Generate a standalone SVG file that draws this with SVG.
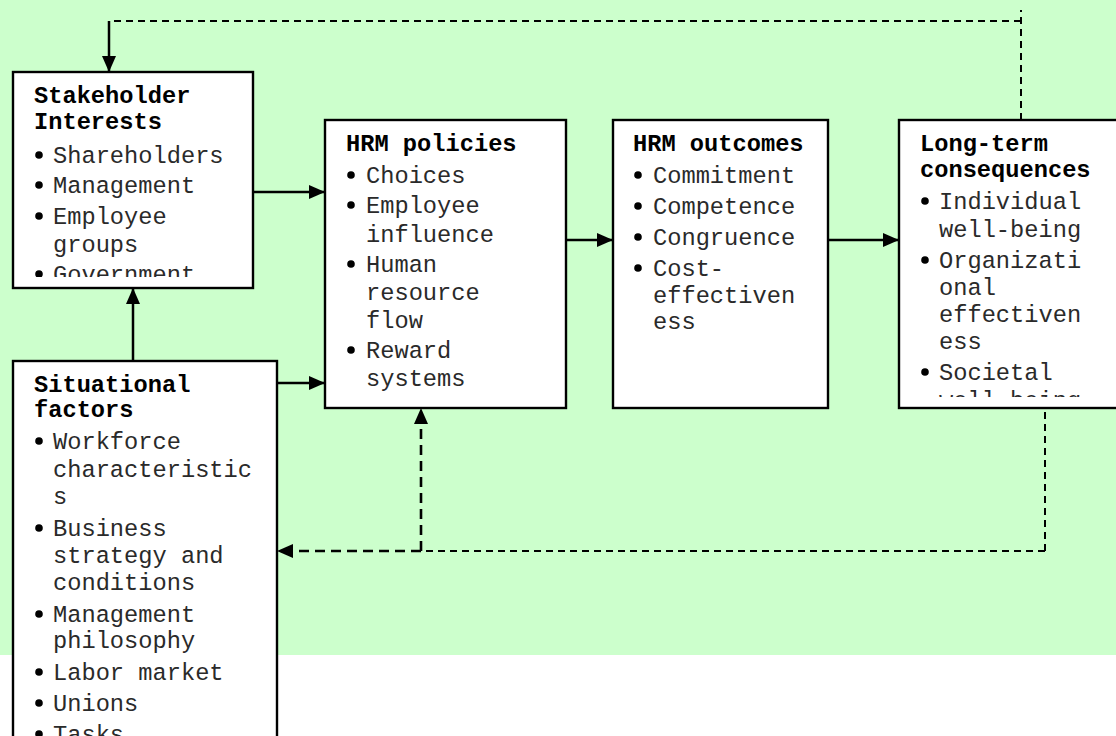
<svg xmlns="http://www.w3.org/2000/svg" width="1116" height="736" viewBox="0 0 1116 736">
  <style>
    .box { fill: #ffffff; stroke: #000000; stroke-width: 2.4; }
    .hd { font-family: "Liberation Mono", "Courier New", monospace; font-weight: bold; font-size: 23.7px; fill: #000000; }
    .it { font-family: "Liberation Mono", "Courier New", monospace; font-size: 23.7px; fill: #2a2a2a; }
    .bul { fill: #000000; }
    .solid { fill: none; stroke: #000000; stroke-width: 2.5; }
    .dashA { fill: none; stroke: #000000; stroke-width: 2.6; stroke-dasharray: 10 6; }
    .dashB { fill: none; stroke: #000000; stroke-width: 2; stroke-dasharray: 7 5; }
  </style>
  <defs>
    <marker id="arrow" viewBox="0 0 16 14" refX="16" refY="7" markerWidth="16" markerHeight="14" markerUnits="userSpaceOnUse" orient="auto">
      <path d="M0,0 L16,7 L0,14 Z" fill="#000000"/>
    </marker>
    <clipPath id="clipStake"><rect x="15" y="74" width="236" height="203"/></clipPath>
    <clipPath id="clipPol"><rect x="327" y="122" width="237" height="284"/></clipPath>
    <clipPath id="clipOut"><rect x="615" y="122" width="211" height="284"/></clipPath>
    <clipPath id="clipLong"><rect x="901" y="122" width="215" height="275"/></clipPath>
    <clipPath id="clipSit"><rect x="15" y="363" width="260" height="373"/></clipPath>
  </defs>

  <!-- backdrop -->
  <rect x="0" y="0" width="1116" height="736" fill="#ffffff"/>
  <rect x="0" y="0" width="1116" height="655" fill="#ccffcc"/>

  <!-- connectors -->
  <g id="connectors">
    <line class="solid" x1="253" y1="192" x2="325" y2="192" marker-end="url(#arrow)"/>
    <line class="solid" x1="277" y1="383" x2="325" y2="383" marker-end="url(#arrow)"/>
    <line class="solid" x1="133" y1="361" x2="133" y2="288" marker-end="url(#arrow)"/>
    <line class="solid" x1="566" y1="240" x2="613" y2="240" marker-end="url(#arrow)"/>
    <line class="solid" x1="828" y1="240" x2="899" y2="240" marker-end="url(#arrow)"/>
    <!-- upper feedback loop -->
    <line class="dashB" x1="1021" y1="120" x2="1021" y2="10"/>
    <line class="dashB" x1="1021" y1="21" x2="109" y2="21"/>
    <line class="solid" x1="109" y1="21" x2="109" y2="72" marker-end="url(#arrow)"/>
    <!-- lower feedback loop -->
    <line class="dashB" x1="1045" y1="400" x2="1045" y2="551"/>
    <line class="dashB" x1="1045" y1="551" x2="421" y2="551"/>
    <line class="dashA" x1="421" y1="551" x2="277" y2="551" marker-end="url(#arrow)"/>
    <line class="dashA" x1="421" y1="551" x2="421" y2="408" marker-end="url(#arrow)"/>
  </g>

  <!-- Stakeholder Interests -->
  <g id="stakeholder">
    <rect class="box" x="13" y="72" width="240" height="216"/>
    <g clip-path="url(#clipStake)">
      <text class="hd" x="34" y="103">Stakeholder</text>
      <text class="hd" x="34" y="129">Interests</text>
      <circle class="bul" cx="39" cy="155" r="3.8"/>
      <text class="it" x="53" y="163">Shareholders</text>
      <circle class="bul" cx="39" cy="185" r="3.8"/>
      <text class="it" x="53" y="193">Management</text>
      <circle class="bul" cx="39" cy="216" r="3.8"/>
      <text class="it" x="53" y="224">Employee</text>
      <text class="it" x="53" y="252">groups</text>
      <circle class="bul" cx="39" cy="274" r="3.8"/>
      <text class="it" x="53" y="282">Government</text>
    </g>
  </g>

  <!-- HRM policies -->
  <g id="policies">
    <rect class="box" x="325" y="120" width="241" height="288"/>
    <g clip-path="url(#clipPol)">
      <text class="hd" x="346" y="151">HRM policies</text>
      <circle class="bul" cx="351" cy="175" r="3.8"/>
      <text class="it" x="366" y="183">Choices</text>
      <circle class="bul" cx="351" cy="205" r="3.8"/>
      <text class="it" x="366" y="213">Employee</text>
      <text class="it" x="366" y="242">influence</text>
      <circle class="bul" cx="351" cy="264" r="3.8"/>
      <text class="it" x="366" y="272">Human</text>
      <text class="it" x="366" y="300">resource</text>
      <text class="it" x="366" y="328">flow</text>
      <circle class="bul" cx="351" cy="350" r="3.8"/>
      <text class="it" x="366" y="358">Reward</text>
      <text class="it" x="366" y="386">systems</text>
    </g>
  </g>

  <!-- HRM outcomes -->
  <g id="outcomes">
    <rect class="box" x="613" y="120" width="215" height="288"/>
    <g clip-path="url(#clipOut)">
      <text class="hd" x="633" y="151">HRM outcomes</text>
      <circle class="bul" cx="638" cy="175" r="3.8"/>
      <text class="it" x="653" y="183">Commitment</text>
      <circle class="bul" cx="638" cy="206" r="3.8"/>
      <text class="it" x="653" y="214">Competence</text>
      <circle class="bul" cx="638" cy="237" r="3.8"/>
      <text class="it" x="653" y="245">Congruence</text>
      <circle class="bul" cx="638" cy="268" r="3.8"/>
      <text class="it" x="653" y="276">Cost-</text>
      <text class="it" x="653" y="303">effectiven</text>
      <text class="it" x="653" y="329">ess</text>
    </g>
  </g>

  <!-- Long-term consequences -->
  <g id="consequences">
    <rect class="box" x="899" y="120" width="240" height="288"/>
    <g clip-path="url(#clipLong)">
      <text class="hd" x="920" y="151">Long-term</text>
      <text class="hd" x="920" y="177">consequences</text>
      <circle class="bul" cx="925" cy="201" r="3.8"/>
      <text class="it" x="939" y="209">Individual</text>
      <text class="it" x="939" y="237">well-being</text>
      <circle class="bul" cx="925" cy="260" r="3.8"/>
      <text class="it" x="939" y="268">Organizati</text>
      <text class="it" x="939" y="295">onal</text>
      <text class="it" x="939" y="322">effectiven</text>
      <text class="it" x="939" y="349">ess</text>
      <circle class="bul" cx="925" cy="372" r="3.8"/>
      <text class="it" x="939" y="380">Societal</text>
      <text class="it" x="939" y="408">well-being</text>
    </g>
  </g>

  <!-- Situational factors -->
  <g id="situational">
    <rect class="box" x="13" y="361" width="264" height="400"/>
    <g clip-path="url(#clipSit)">
      <text class="hd" x="34" y="392">Situational</text>
      <text class="hd" x="34" y="417">factors</text>
      <circle class="bul" cx="39" cy="441" r="3.8"/>
      <text class="it" x="53" y="449">Workforce</text>
      <text class="it" x="53" y="477">characteristic</text>
      <text class="it" x="53" y="504">s</text>
      <circle class="bul" cx="39" cy="528" r="3.8"/>
      <text class="it" x="53" y="536">Business</text>
      <text class="it" x="53" y="563">strategy and</text>
      <text class="it" x="53" y="590">conditions</text>
      <circle class="bul" cx="39" cy="614" r="3.8"/>
      <text class="it" x="53" y="622">Management</text>
      <text class="it" x="53" y="648">philosophy</text>
      <circle class="bul" cx="39" cy="672" r="3.8"/>
      <text class="it" x="53" y="680">Labor market</text>
      <circle class="bul" cx="39" cy="703" r="3.8"/>
      <text class="it" x="53" y="711">Unions</text>
      <circle class="bul" cx="39" cy="734" r="3.8"/>
      <text class="it" x="53" y="742">Tasks</text>
    </g>
  </g>
</svg>
